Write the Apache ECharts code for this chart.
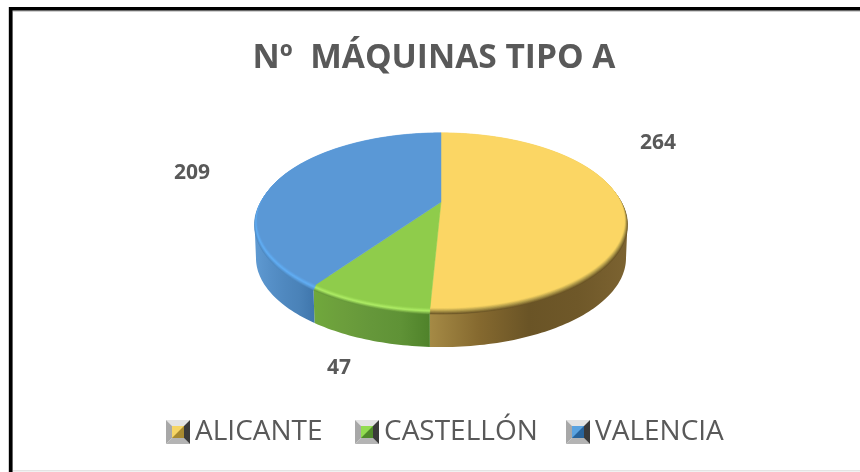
<!DOCTYPE html>
<html>
<head>
<meta charset="utf-8">
<style>html,body{margin:0;padding:0;background:#fff}#c{width:860px;height:472px}</style>
<script src="https://cdn.jsdelivr.net/npm/echarts@6/dist/echarts.min.js"></script>
</head>
<body>
<div id="c"></div>
<script>
const titleText = 'Nº  MÁQUINAS TIPO A';
const categories = ['ALICANTE', 'CASTELLÓN', 'VALENCIA'];
const machineCounts = [264, 47, 209];

const labelAnchors = [[658, 143], [339, 368], [192, 173]];
const legendLefts = [166, 355, 566];
const faceColors = ['#FBD664', '#8FCC4B', '#5A98D6'];
const bevelColors = ['#B09A4A', '#AEEC66', '#62AFF5'];
const wallStops = [
  ['#A58A45', '#85692F', '#6A5426', '#6F5829', '#7C6331'],
  ['#70A83C', '#6C9E3C', '#65973A', '#5F9236', '#4F822A'],
  ['#5F9AD2', '#5690C8', '#4F88BF', '#4A82B8', '#3F76AC']
];
const iconColors = [['#F6D565', '#A88A30'], ['#92DC50', '#4F8A2A'], ['#5BA3E0', '#28649C']];

const total = machineCounts.reduce((a, b) => a + b, 0);
const CX = 441, CY = 202, RX = 182.2, RY = 85, K = 0.2135, WALL = 37;
const VIS = Math.acos(-0.2133);           // silhouette angle of the projected disc

function project(r, th, dy, xs) {
  const u = r * Math.sin(th), v = -r * Math.cos(th), w = 1 - K * v;
  return [CX + (xs || 1) * RX * u / w, CY + RY * v / w + (dy || 0)];
}
function mix(a, b, t) {
  const p = s => [1, 3, 5].map(i => parseInt(s.substr(i, 2), 16));
  const A = p(a), B = p(b);
  return 'rgb(' + A.map((x, i) => Math.round(x + (B[i] - x) * t)).join(',') + ')';
}
function arc(r, a0, a1, dy, xs) {
  const n = Math.max(2, Math.ceil((a1 - a0) / 0.02)), pts = [];
  for (let i = 0; i <= n; i++) pts.push(project(r, a0 + (a1 - a0) * i / n, dy, xs));
  return pts;
}
function svgIcon(c) {
  const s = '<svg xmlns="http://www.w3.org/2000/svg" width="24" height="24">' +
    '<polygon points="0,0 24,0 18,6 6,6" fill="#E4E4E4"/>' +
    '<polygon points="0,0 6,6 6,18 0,24" fill="#A8A8A8"/>' +
    '<polygon points="0,24 6,18 18,18 24,24" fill="#B4B4B4"/>' +
    '<polygon points="24,0 24,24 18,18 18,6" fill="#3A3A3A"/>' +
    '<rect x="6" y="6" width="12" height="12" fill="' + c[0] + '"/>' +
    '<polygon points="18,6 18,18 6,18" fill="' + c[1] + '"/></svg>';
  return 'image://data:image/svg+xml;charset=utf-8,' + encodeURIComponent(s);
}

const starts = [];
machineCounts.reduce((acc, v, i) => { starts[i] = acc; return acc + v; }, 0);

function renderSlice(idx) {
  return function (params, api) {
    const val = api.value(0);
    const a0 = starts[idx] / total * 2 * Math.PI;
    const a1 = a0 + val / total * 2 * Math.PI;
    const children = [];
    const w0 = Math.max(a0, VIS), w1 = Math.min(a1, 2 * Math.PI - VIS);
    if (w1 > w0) {
      const top = arc(1, w0, w1, 2);
      const bot = arc(1, w0, w1, WALL, 0.992).reverse();
      children.push({
        type: 'polygon', z2: 0, shape: { points: top.concat(bot) },
        style: {
          fill: {
            type: 'linear', x: 0, y: 0, x2: 1, y2: 0,
            colorStops: wallStops[idx].map((c, i, l) => ({ offset: i / (l.length - 1), color: c }))
          }
        }
      });
    }
    const LAYERS = 10;
    for (let i = 0; i < LAYERS; i++) {
      const t = i / LAYERS;
      const r = 1 - 0.015 * t;
      const dy = 4 - 4 * t;
      const col = t < 0.5 ? mix(wallStops[idx][2], bevelColors[idx], t * 2)
                          : mix(bevelColors[idx], faceColors[idx], (t - 0.5) * 2);
      const pts = arc(r, a0, a1, dy).concat(arc(0.9, a0, a1, dy).reverse());
      children.push({ type: 'polygon', z2: 1 + i, shape: { points: pts }, style: { fill: col, stroke: col, lineWidth: 0.5 } });
    }
    const face = [[CX, CY]].concat(arc(0.985, a0, a1, 0));
    children.push({ type: 'polygon', z2: 20, shape: { points: face }, style: { fill: faceColors[idx], stroke: faceColors[idx], lineWidth: 0.5 } });
    children.push({
      type: 'text', z2: 30, x: labelAnchors[idx][0], y: labelAnchors[idx][1],
      style: {
        text: String(val), fill: '#595959', align: 'center', verticalAlign: 'middle',
        font: 'bold 21px "Open Sans"'
      }
    });
    return { type: 'group', children };
  };
}

const chart = echarts.init(document.getElementById('c'), null, { renderer: 'canvas' });
chart.setOption({
  animation: false,
  backgroundColor: '#ffffff',
  title: {
    text: titleText, left: 429, top: 53, textAlign: 'center', textVerticalAlign: 'middle',
    textStyle: { fontFamily: 'Open Sans', fontWeight: 'bold', fontSize: 33.5, color: '#595959' }
  },
  legend: categories.map((n, i) => ({
    left: legendLefts[i], top: 418, padding: 0, itemWidth: 24, itemHeight: 24,
    textStyle: { fontFamily: 'Open Sans', fontSize: 28, color: '#595959', padding: 0 },
    selectedMode: false,
    data: [{ name: n, icon: svgIcon(iconColors[i]) }]
  })),
  graphic: [
    { type: 'rect', shape: { x: 8, y: 7, width: 852, height: 5 }, style: { fill: '#D0D0D0' }, z: 1 },
    { type: 'rect', shape: { x: 8, y: 7, width: 5, height: 465 }, style: { fill: '#D0D0D0' }, z: 1 },
    { type: 'rect', shape: { x: 9, y: 7, width: 851, height: 3.5 }, style: { fill: '#000' }, z: 2 },
    { type: 'rect', shape: { x: 9, y: 7, width: 3.5, height: 465 }, style: { fill: '#000' }, z: 2 },
    { type: 'rect', shape: { x: 13, y: 470, width: 847, height: 1.5 }, style: { fill: '#E4E4E4' }, z: 1 }
  ],
  series: categories.map((name, i) => ({
    type: 'custom', name, coordinateSystem: 'none',
    itemStyle: { color: faceColors[i] },
    silent: true,
    data: [[machineCounts[i]]],
    renderItem: renderSlice(i)
  }))
});
</script>
</body>
</html>
